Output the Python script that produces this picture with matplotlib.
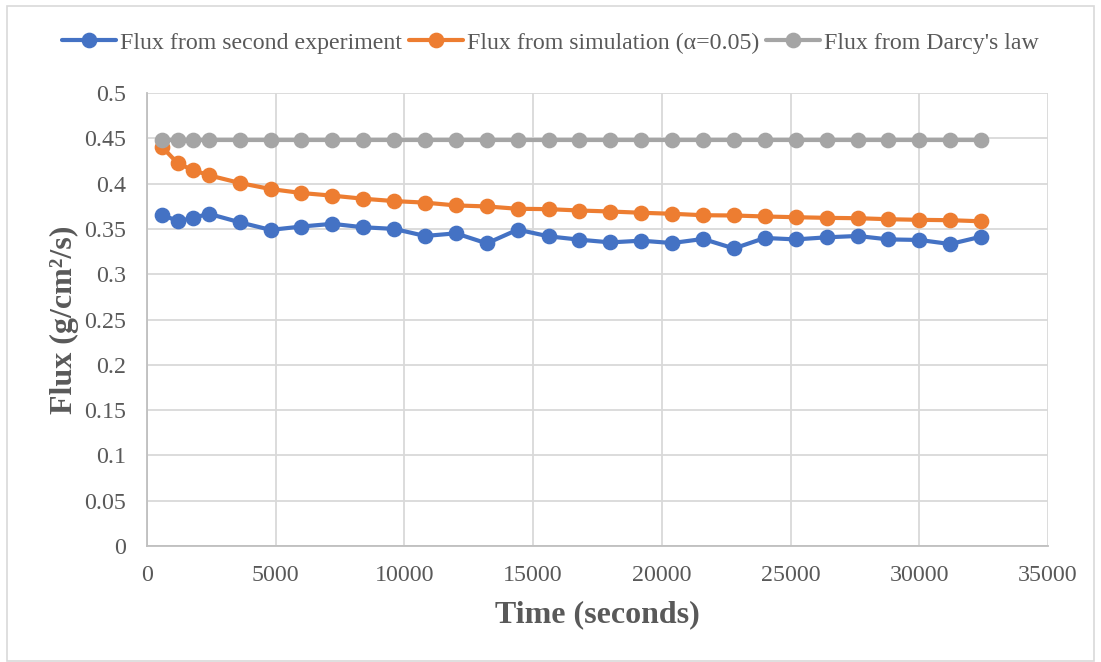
import matplotlib
matplotlib.use("Agg")
import matplotlib.pyplot as plt
from matplotlib.patches import Rectangle

# Sampling times (s)
time_s = [600, 1200, 1800, 2400, 3600, 4800, 6000, 7200, 8400, 9600, 10800,
          12000, 13200, 14400, 15600, 16800, 18000, 19200, 20400, 21600,
          22800, 24000, 25200, 26400, 27600, 28800, 30000, 31200, 32400]

# Measured flux, second experiment (g/cm^2/s)
flux_experiment = [0.3656, 0.3584, 0.3622, 0.3667, 0.3573, 0.3489, 0.3526,
                   0.3556, 0.3518, 0.3500, 0.3422, 0.3451, 0.3340, 0.3492,
                   0.3418, 0.3381, 0.3351, 0.3370, 0.3344, 0.3389, 0.3284,
                   0.3400, 0.3384, 0.3407, 0.3422, 0.3384, 0.3378, 0.3333,
                   0.3414]

# Simulated flux with alpha = 0.05
flux_simulation = [0.4400, 0.4222, 0.4148, 0.4092, 0.4007, 0.3940, 0.3896,
                   0.3867, 0.3833, 0.3807, 0.3790, 0.3759, 0.3748, 0.3722,
                   0.3718, 0.3703, 0.3692, 0.3678, 0.3667, 0.3651, 0.3648,
                   0.3637, 0.3629, 0.3622, 0.3618, 0.3607, 0.3600, 0.3596,
                   0.3584]

# Darcy's law prediction (constant)
flux_darcy = [0.448] * len(time_s)

x_ticks = [0, 5000, 10000, 15000, 20000, 25000, 30000, 35000]
y_ticks = [0, 0.05, 0.1, 0.15, 0.2, 0.25, 0.3, 0.35, 0.4, 0.45, 0.5]
y_tick_labels = ["0", "0.05", "0.1", "0.15", "0.2", "0.25", "0.3", "0.35",
                 "0.4", "0.45", "0.5"]

plt.rcParams["font.family"] = ["Liberation Serif", "DejaVu Serif"]
text_color = "#595959"
grid_color = "#d9d9d9"

fig = plt.figure(figsize=(11.01, 6.62), dpi=100)
ax = fig.add_axes([147 / 1101, 1 - 546 / 662, (1048 - 147) / 1101, (546 - 93) / 662])

# outer chart border
fig.patches.append(Rectangle((7 / 1101, 1 / 662), 1 - 14 / 1101, 1 - 7 / 662,
                             transform=fig.transFigure, fill=False,
                             edgecolor=grid_color, linewidth=1.2))

style = dict(linewidth=3, marker="o", markersize=10.3, solid_capstyle="round")
ax.plot(time_s, flux_experiment, color="#4472C4", label="Flux from second experiment", zorder=3, **style)
ax.plot(time_s, flux_simulation, color="#ED7D31", label="Flux from simulation (\u03b1=0.05)", zorder=3, **style)
ax.plot(time_s, flux_darcy, color="#A5A5A5", label="Flux from Darcy's law", zorder=3, **style)

ax.set_xlim(0, 35000)
ax.set_ylim(0, 0.5)
ax.set_xticks(x_ticks)
ax.set_xticklabels([str(v) for v in x_ticks])
ax.set_yticks(y_ticks)
ax.set_yticklabels(y_tick_labels)
ax.grid(True, color=grid_color, linewidth=1.3, zorder=0)
ax.set_axisbelow(True)
ax.tick_params(axis="both", length=0, labelsize=17.3, colors=text_color)
ax.tick_params(axis="x", pad=14)
ax.tick_params(axis="y", pad=15)

for side in ("top", "right"):
    ax.spines[side].set_visible(False)
for side in ("left", "bottom"):
    ax.spines[side].set_color("#bfbfbf")
    ax.spines[side].set_linewidth(1.3)

ax.set_xlabel("Time (seconds)", fontsize=23, fontweight="bold", color=text_color, labelpad=10)
ax.set_ylabel("Flux (g/cm\u00b2/s)", fontsize=23, fontweight="bold", color=text_color, labelpad=4)

leg = fig.legend(loc="center", bbox_to_anchor=(0.5, 1 - 43 / 662), ncol=3, frameon=False,
                 fontsize=17.2, handlelength=2.26, handletextpad=0.17, columnspacing=0.3)
for t in leg.get_texts():
    t.set_color(text_color)

fig.savefig("out.png", dpi=100)
